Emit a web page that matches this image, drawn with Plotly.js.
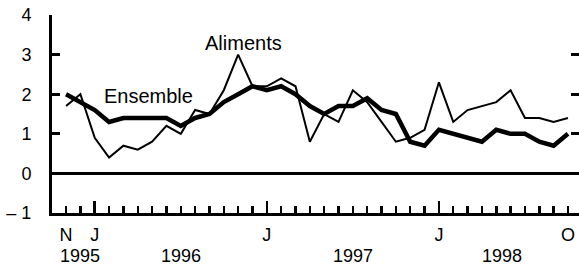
<!DOCTYPE html>
<html><head><meta charset="utf-8"><script src="https://cdn.plot.ly/plotly-3.0.1.min.js"></script>
<style>body{margin:0;background:#fff}</style></head><body>
<div id="chart" style="width:579px;height:266px"></div>
<script>
// Months Nov 1995 .. Oct 1998
const months = ['1995-11','1995-12','1996-01','1996-02','1996-03','1996-04','1996-05','1996-06','1996-07','1996-08','1996-09','1996-10','1996-11','1996-12','1997-01','1997-02','1997-03','1997-04','1997-05','1997-06','1997-07','1997-08','1997-09','1997-10','1997-11','1997-12','1998-01','1998-02','1998-03','1998-04','1998-05','1998-06','1998-07','1998-08','1998-09','1998-10'];
const ensemble = [2.0,1.8,1.6,1.3,1.4,1.4,1.4,1.4,1.2,1.4,1.5,1.8,2.0,2.2,2.1,2.2,2.0,1.7,1.5,1.7,1.7,1.9,1.6,1.5,0.8,0.7,1.1,1.0,0.9,0.8,1.1,1.0,1.0,0.8,0.7,1.0];
const aliments = [1.7,2.0,0.9,0.4,0.7,0.6,0.8,1.2,1.0,1.6,1.5,2.1,3.0,2.2,2.2,2.4,2.2,0.8,1.5,1.3,2.1,1.8,1.3,0.8,0.9,1.1,2.3,1.3,1.6,1.7,1.8,2.1,1.4,1.4,1.3,1.4];
const letterMonths = ['1995-11','1996-01','1997-01','1998-01','1998-10'];
const letterText = ['N','J','J','J','O'];
const majorMonths = ['1996-01','1997-01','1998-01'];
const yearText = ['1995','1996','1997','1998'];
const yearPos = [1, 8, 20, 30.4]; // month index of year label centres
const yTicks = [-1,0,1,2,3,4];
const yTickText = ['\u2013 1','0','1','2','3','4'];

const idx = m => months.indexOf(m);
const xs = months.map((m,i)=>i);
const xr = [-0.98, 35.77];
const F = 'Liberation Sans, Arial, sans-serif';

const traces = [
  {x: xs, y: aliments, mode:'lines', line:{color:'black', width:2}, hoverinfo:'skip'},
  {x: xs, y: ensemble, mode:'lines', line:{color:'black', width:4.5}, hoverinfo:'skip'},
  {x: [], y: [], xaxis:'x2', yaxis:'y2', mode:'lines'}
];

const layout = {
  width:579, height:266,
  margin:{l:52, r:0, t:15, b:53, pad:0},
  paper_bgcolor:'white', plot_bgcolor:'white',
  showlegend:false,
  font:{family:F, size:18, color:'black'},
  xaxis:{range:xr, tickmode:'array', tickvals:majorMonths.map(idx), ticks:'inside', ticklen:12, tickwidth:2.5, tickcolor:'black',
    showticklabels:false, showline:true, linewidth:3, linecolor:'black', showgrid:false, zeroline:false,
    minor:{tickmode:'array', tickvals:xs, ticks:'inside', ticklen:7, tickwidth:2.5, tickcolor:'black', showgrid:false}},
  xaxis2:{overlaying:'x', anchor:'y', side:'bottom', range:xr, tickmode:'array', tickvals:letterMonths.map(idx), ticktext:letterText,
    ticks:'', showline:false, showgrid:false, zeroline:false, ticklabelstandoff:9, tickfont:{family:F, size:18}},
  yaxis:{range:[-1,4], tickmode:'array', tickvals:yTicks, ticktext:yTickText, ticks:'inside', ticklen:8, tickwidth:3, tickcolor:'black',
    showline:true, linewidth:3, linecolor:'black', zeroline:true, zerolinewidth:3, zerolinecolor:'black', showgrid:false,
    ticklabelstandoff:14, tickfont:{family:F, size:18}},
  yaxis2:{overlaying:'y', side:'right', anchor:'x', range:[-1,4], tickmode:'array', tickvals:yTicks, ticks:'inside', ticklen:8, tickwidth:3,
    tickcolor:'black', showticklabels:false, showline:false, showgrid:false, zeroline:false},
  annotations: [
    ...yearText.map((t,i)=>({text:t, x:yearPos[i], xref:'x', y:-0.215, yref:'paper', showarrow:false, xanchor:'center', yanchor:'middle', font:{family:F, size:18}})),
    {text:'Aliments', x:12.34, y:3.29, xref:'x', yref:'y', showarrow:false, xanchor:'center', yanchor:'middle', font:{family:F, size:20}},
    {text:'Ensemble', x:5.72, y:1.95, xref:'x', yref:'y', showarrow:false, xanchor:'center', yanchor:'middle', font:{family:F, size:20}}
  ]
};
Plotly.newPlot('chart', traces, layout, {staticPlot:true, displayModeBar:false});
</script></body></html>
